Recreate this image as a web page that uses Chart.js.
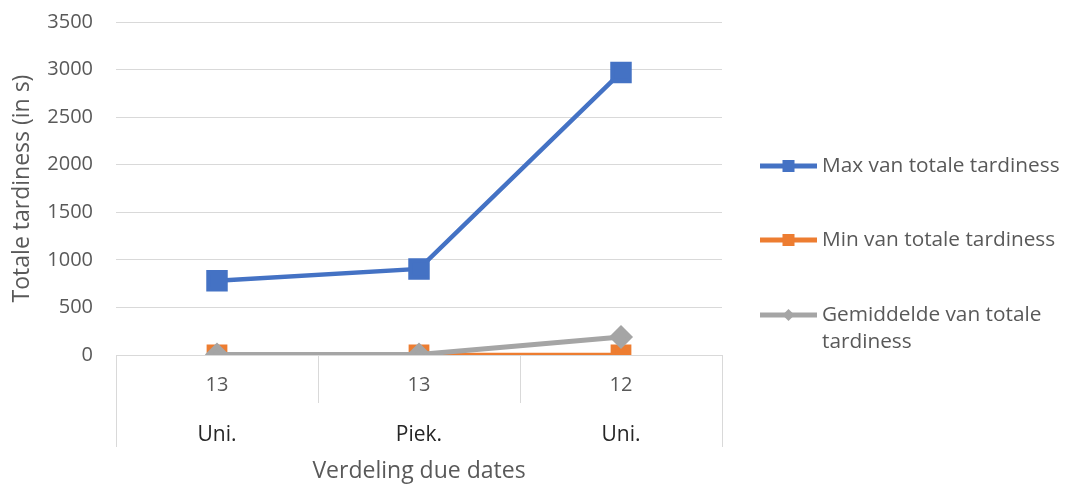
<!DOCTYPE html>
<html>
<head>
<meta charset="utf-8">
<script src="https://cdn.jsdelivr.net/npm/chart.js@4.4.1/dist/chart.umd.min.js"></script>
<style>
  html, body { margin: 0; padding: 0; background: #ffffff; }
  #wrap { width: 1067px; height: 485px; }
</style>
</head>
<body>
<div id="wrap"><canvas id="tardinessChart"></canvas></div>
<script>
// categorieën: aantal due dates en verdeling
var dueCounts = ['13', '13', '12'];
var distributions = ['Uni.', 'Piek.', 'Uni.'];

// totale tardiness per categorie (in s)
var maxTardiness = [780, 905, 2970];
var minTardiness = [0, 0, 0];
var avgTardiness = [5, 5, 190];

var seriesNames = ['Max van totale tardiness', 'Min van totale tardiness', 'Gemiddelde van totale tardiness'];
var seriesColors = ['#4472C4', '#ED7D31', '#A5A5A5'];

var FONT = "'Open Sans', sans-serif";

// tweede rij labels + scheidingslijnen onder de x-as, en de legenda rechts
var excelAxisAndLegend = {
    id: 'excelAxisAndLegend',
    afterDraw: function (chart) {
        var ctx = chart.ctx;
        var x = chart.scales.x;
        var area = chart.chartArea;
        var n = chart.data.labels.length;
        var step = (area.right - area.left) / n;

        ctx.save();
        ctx.strokeStyle = '#D9D9D9';
        ctx.lineWidth = 1;
        for (var i = 0; i <= n; i++) {
            var px = Math.round(area.left + i * step) + 0.5;
            var outer = (i === 0 || i === n);
            ctx.beginPath();
            ctx.moveTo(px, area.bottom);
            ctx.lineTo(px, area.bottom + (outer ? 92 : 48));
            ctx.stroke();
        }

        ctx.textAlign = 'center';
        ctx.textBaseline = 'middle';
        for (var j = 0; j < n; j++) {
            var cx = x.getPixelForValue(j);
            ctx.fillStyle = '#595959';
            ctx.font = '20px ' + FONT;
            ctx.fillText(dueCounts[j], cx, area.bottom + 30);
            ctx.fillStyle = '#262626';
            ctx.font = '21px ' + FONT;
            ctx.fillText(distributions[j], cx, area.bottom + 80);
        }

        // legenda
        var lx = 760, lw = 57, tx = 822, maxW = chart.width - tx - 4;
        var rows = [166, 240, 315];
        ctx.textAlign = 'left';
        ctx.font = '20.8px ' + FONT;
        chart.data.datasets.forEach(function (ds, k) {
            var y = rows[k];
            ctx.strokeStyle = ds.borderColor;
            ctx.lineWidth = 5;
            ctx.beginPath();
            ctx.moveTo(lx, y);
            ctx.lineTo(lx + lw, y);
            ctx.stroke();
            ctx.fillStyle = ds.borderColor;
            var mx = lx + lw / 2;
            if (ds.pointStyle === 'rectRot') {
                ctx.beginPath();
                ctx.moveTo(mx, y - 6);
                ctx.lineTo(mx + 6, y);
                ctx.lineTo(mx, y + 6);
                ctx.lineTo(mx - 6, y);
                ctx.closePath();
                ctx.fill();
            } else {
                ctx.fillRect(mx - 6, y - 6, 12, 12);
            }

            // tekst afbreken als hij niet past
            var words = ds.label.split(' ');
            var lines = [], cur = '';
            words.forEach(function (w) {
                var test = cur ? cur + ' ' + w : w;
                if (ctx.measureText(test).width > maxW && cur) {
                    lines.push(cur);
                    cur = w;
                } else {
                    cur = test;
                }
            });
            lines.push(cur);
            ctx.fillStyle = '#595959';
            lines.forEach(function (line, m) {
                ctx.fillText(line, tx, y + m * 27);
            });
        });
        ctx.restore();
    }
};

var ctx = document.getElementById('tardinessChart').getContext('2d');
var tardinessChart = new Chart(ctx, {
    type: 'line',
    data: {
        labels: dueCounts.map(function (c, i) { return [c, distributions[i]]; }),
        datasets: [{
            label: seriesNames[0],
            data: maxTardiness,
            borderColor: seriesColors[0],
            backgroundColor: seriesColors[0],
            borderWidth: 4.5,
            pointStyle: 'rect',
            pointRadius: 12,
            order: 0
        }, {
            label: seriesNames[1],
            data: minTardiness,
            borderColor: seriesColors[1],
            backgroundColor: seriesColors[1],
            borderWidth: 4.5,
            pointStyle: 'rect',
            pointRadius: 11.5,
            order: 2
        }, {
            label: seriesNames[2],
            data: avgTardiness,
            borderColor: seriesColors[2],
            backgroundColor: seriesColors[2],
            borderWidth: 5,
            pointStyle: 'rectRot',
            pointRadius: 8.5,
            order: 1
        }]
    },
    options: {
        responsive: true,
        maintainAspectRatio: false,
        animation: false,
        layout: {
            padding: { top: 22, right: 345, bottom: 0, left: 0 }
        },
        elements: {
            line: { tension: 0 },
            point: { borderWidth: 1, hoverRadius: 12 }
        },
        scales: {
            x: {
                offset: true,
                afterFit: function (scale) { scale.height = 130; },
                grid: { display: false },
                border: { display: false },
                ticks: { display: false },
                title: {
                    display: true,
                    text: 'Verdeling due dates',
                    color: '#595959',
                    font: { family: FONT, size: 23 },
                    padding: { top: 0, bottom: 0 }
                }
            },
            y: {
                min: 0,
                max: 3500,
                afterFit: function (scale) {
                    scale.width = 116;
                    // tick-padding alleen horizontaal gebruiken
                    scale.paddingTop = 0;
                    scale.paddingBottom = 0;
                },
                ticks: {
                    stepSize: 500,
                    color: '#595959',
                    padding: 23,
                    font: { family: FONT, size: 20 },
                    callback: function (v) { return String(v); }
                },
                grid: { color: '#D9D9D9', lineWidth: 1, drawTicks: false },
                border: { display: false },
                title: {
                    display: true,
                    text: 'Totale tardiness (in s)',
                    color: '#595959',
                    font: { family: FONT, size: 23 },
                    padding: { top: 9, bottom: 0 }
                }
            }
        },
        plugins: {
            legend: { display: false },
            tooltip: { enabled: false }
        }
    },
    plugins: [excelAxisAndLegend]
});
</script>
</body>
</html>
